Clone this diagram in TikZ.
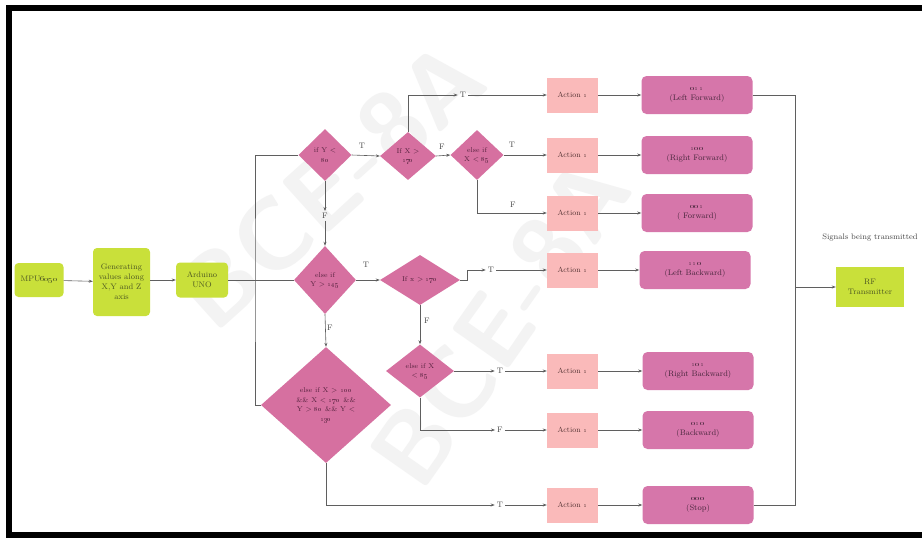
\documentclass[tikz,border=0pt]{standalone}
\usetikzlibrary{shapes.geometric,arrows.meta}
\definecolor{limeg}{RGB}{201,224,58}
\definecolor{olivetext}{RGB}{78,88,34}
\definecolor{diapink}{RGB}{214,112,160}
\definecolor{diatextc}{RGB}{86,34,62}
\definecolor{outpink}{RGB}{214,118,170}
\definecolor{outtext}{RGB}{72,38,60}
\definecolor{actpink}{RGB}{250,186,186}
\definecolor{acttext}{RGB}{84,52,52}
\definecolor{linegray}{RGB}{95,95,95}
\definecolor{tftext}{RGB}{70,70,70}
\definecolor{wmark}{RGB}{243,243,243}
\newcommand{\os}[1]{\oldstylenums{#1}}
\begin{document}
\begin{tikzpicture}[x=1pt,y=-1pt,
  line/.style={draw=linegray, line width=0.6pt},
  arr/.style={line, -{Stealth[length=4pt,width=3pt]}},
  greenbox/.style={fill=limeg, rounded corners=4pt, text=olivetext, align=center, font=\fontsize{8}{10}\selectfont, inner sep=1pt},
  dia/.style={diamond, fill=diapink, inner sep=0pt},
  diatext/.style={text=diatextc, align=center, font=\fontsize{7}{9.5}\selectfont},
  actbox/.style={fill=actpink, minimum width=51pt, minimum height=35pt, text=acttext, font=\fontsize{7.5}{9}\selectfont},
  outbox/.style={fill=outpink, rounded corners=5pt, minimum width=111pt, minimum height=38pt, align=center, text=outtext, font=\fontsize{8}{10.5}\selectfont},
  tf/.style={text=tftext, font=\fontsize{8}{9}\selectfont, inner sep=2pt},
  wm/.style={text=wmark, font=\fontsize{100}{100}\selectfont\sffamily\bfseries}
]
\useasboundingbox (0,0) rectangle (922,539);
\clip (0,0) rectangle (922,539);
\fill[white] (0,0) rectangle (922,539);

% watermark
\node[wm, rotate=42] (wm1) at (330,185) {BCE-8A};
\node[wm, rotate=55] (wm2) at (500,322) {BCE-8A};

% frame
\draw[black, line width=6pt] (940,8) -- (9,8) -- (9,535) -- (940,535);

% input chain
\node[greenbox, minimum width=49pt, minimum height=34pt] (mpu) at (39,280) {MPU\os{6050}};
\node[greenbox, minimum width=57pt, minimum height=68pt] (gen) at (121.5,282) {Generating\\values along\\X,Y and Z\\axis};
\node[greenbox, minimum width=52pt, minimum height=35pt] (ard) at (202,280) {Arduino\\UNO};

% decisions
\node[dia, minimum width=53pt, minimum height=52pt, label={[diatext]center:{if Y <\\\os{80}}}] (d1) at (325,155) {};
\node[dia, minimum width=56pt, minimum height=48pt, label={[diatext]center:{If X >\\\os{170}}}] (d2) at (408,156) {};
\node[dia, minimum width=53pt, minimum height=50pt, label={[diatext]center:{else if\\X < \os{85}}}] (d3) at (477,155) {};
\node[dia, minimum width=62pt, minimum height=68pt, label={[diatext]center:{else if\\Y > \os{145}}}] (d4) at (325,280) {};
\node[dia, minimum width=80pt, minimum height=50pt, label={[diatext]center:{If x > \os{170}}}] (d5) at (420,280) {};
\node[dia, minimum width=68pt, minimum height=53pt, label={[diatext]center:{else if X\\< \os{85}}}] (d6) at (420,371) {};
\node[dia, minimum width=130pt, minimum height=116pt, label={[diatext]center:{else if X > \os{100}\\\&\& X < \os{170} \&\&\\Y > \os{80} \&\& Y <\\\os{130}}}] (d7) at (326,405) {};

% actions
\foreach \n/\y in {1/95,2/155,3/213,4/270,5/371,6/430,7/505}{
  \node[actbox] (a\n) at (572.5,\y) {Action \os{1}};
}

% outputs
\node[outbox] (o1) at (697,95)  {\textbf{\os{011}}\\(Left Forward)};
\node[outbox] (o2) at (697,155) {\textbf{\os{100}}\\(Right Forward)};
\node[outbox] (o3) at (697,213) {\textbf{\os{001}}\\( Forward)};
\node[outbox] (o4) at (695,270) {\textbf{\os{110}}\\(Left Backward)};
\node[outbox] (o5) at (698,371) {\textbf{\os{101}}\\(Right Backward)};
\node[outbox] (o6) at (698,430) {\textbf{\os{010}}\\(Backward)};
\node[outbox] (o7) at (698,505) {\textbf{\os{000}}\\(Stop)};

% RF
\node[greenbox, rounded corners=0pt, minimum width=68pt, minimum height=40pt] (rf) at (870,287) {RF\\Transmitter};
\node[text=tftext, font=\fontsize{8}{9}\selectfont] (sig) at (870,237) {Signals being transmitted};

% T/F labels
\node[tf] (t1) at (463,95) {T};
\node[tf] (lt12) at (362,146) {T};
\node[tf] (lf23) at (442,147) {F};
\node[tf] (lt3) at (512,145) {T};
\node[tf] (lf3) at (513,205) {F};
\node[tf] (f1) at (325,216) {F};
\node[tf] (lt45) at (366,265) {T};
\node[tf] (t4) at (491,270) {T};
\node[tf] (lf56) at (427,321) {F};
\node[tf] (lf47) at (330,328) {F};
\node[tf] (t5) at (500,371) {T};
\node[tf] (t6) at (500,430) {F};
\node[tf] (t7) at (500,505) {T};

% connectors: input chain
\draw[arr] (mpu) -- (gen);
\draw[arr] (gen.east |- ard) -- (ard);
\draw[line] (ard) -- (d4.west);
\coordinate (trunk) at (255,280);
\draw[line] (d1.west) -| (trunk) |- (d7.west);

% top group
\draw[arr] (d1.east) -- (d2.west);
\draw[arr] (d2.east) -- (d3.west);
\draw[arr] (d2.north) |- (t1.west);
\draw[arr] (t1.east) -- (a1.west);
\draw[arr] (d3.east) -- (a2.west);
\draw[arr] (d3.south) |- (a3.west);
\draw[arr] (d1.south) -- (f1.north);
\draw[arr] (f1.south) -- (d4.north);

% middle group
\draw[arr] (d4.east) -- (d5.west);
\draw[arr] (d5.east) -- ++(7,0) |- (t4.west);
\draw[arr] (t4.east) -- (a4.west);
\draw[arr] (d5.south) -- (d6.north);
\draw[arr] (d4.south) -- (d7.north);
\draw[arr] (d6.east) -- (t5.west);
\draw[arr] (t5.east) -- (a5.west);
\draw[arr] (d6.south) |- (t6.west);
\draw[arr] (t6.east) -- (a6.west);
\draw[arr] (d7.south) |- (t7.west);
\draw[arr] (t7.east) -- (a7.west);

% actions to outputs
\foreach \n in {1,...,7}{
  \draw[arr] (a\n.east) -- (o\n.west |- a\n.east);
}

% collector
\coordinate (cbus) at (795,287);
\draw[line] (o1.east) -| (cbus);
\draw[line] (o7.east) -| (cbus);
\draw[arr] (cbus) -- (rf.west);
\end{tikzpicture}
\end{document}
